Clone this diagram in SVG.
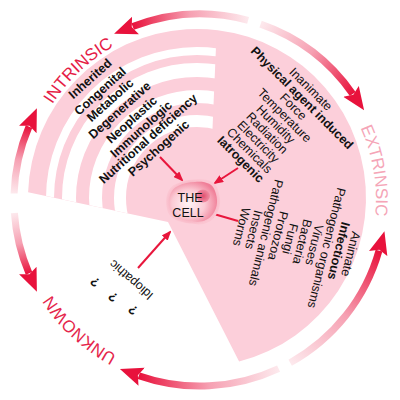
<svg xmlns="http://www.w3.org/2000/svg" width="400" height="400" viewBox="0 0 400 400">
<defs>
<style>
.lbl{font-family:"Liberation Sans",Arial,sans-serif;font-size:12.5px;fill:#111;text-anchor:middle}
.b{font-weight:bold}
.ring{font-family:"Liberation Sans",Arial,sans-serif;font-size:17px;text-anchor:middle}
.ptr{stroke:#e8163c;stroke-width:2;fill:none;marker-end:url(#ah)}
.arc{fill:none;stroke-width:7;marker-end:url(#big)}
.gap{fill:none;stroke:#fff}
</style>
<marker id="ah" markerUnits="userSpaceOnUse" markerWidth="10" markerHeight="8" refX="8" refY="4" orient="auto" viewBox="0 0 10 8"><path d="M0,0 L10,4 L0,8 z" fill="#e8163c"/></marker>
<marker id="big" markerUnits="userSpaceOnUse" markerWidth="23" markerHeight="20" refX="3" refY="10" orient="auto" viewBox="0 0 23 20"><path d="M0,0.5 L23,10 L0,19.5 L4,10 z" fill="#e8123c"/></marker>
<linearGradient id="gb"><stop offset="0" stop-color="#fde9ed"/><stop offset="0.5" stop-color="#f6a0b2"/><stop offset="1" stop-color="#e8123c"/></linearGradient>
<linearGradient id="g1" href="#gb" gradientUnits="userSpaceOnUse" x1="14.1" y1="193.5" x2="29" y2="126.7"/>
<linearGradient id="g2" href="#gb" gradientUnits="userSpaceOnUse" x1="248.1" y1="20.3" x2="132.7" y2="26.6"/>
<linearGradient id="g3" href="#gb" gradientUnits="userSpaceOnUse" x1="260.6" y1="24.1" x2="352.7" y2="93.9"/>
<linearGradient id="g4" href="#gb" gradientUnits="userSpaceOnUse" x1="290.2" y1="362.7" x2="379" y2="250.6"/>
<linearGradient id="g5" href="#gb" gradientUnits="userSpaceOnUse" x1="278.6" y1="368.6" x2="138.8" y2="375.7"/>
<linearGradient id="g6" href="#gb" gradientUnits="userSpaceOnUse" x1="14.4" y1="213" x2="29" y2="273.3"/>
<radialGradient id="cellg" cx="0.4" cy="0.55" r="0.62"><stop offset="0" stop-color="#fff4f6"/><stop offset="0.55" stop-color="#fbcbd5"/><stop offset="1" stop-color="#f07f98"/></radialGradient>
<radialGradient id="halo" cx="0.5" cy="0.5" r="0.5"><stop offset="0.7" stop-color="#f6a9ba"/><stop offset="1" stop-color="#fbc6d2"/></radialGradient>
<radialGradient id="nucg"><stop offset="0" stop-color="#df4f6e"/><stop offset="1" stop-color="#f08ca2"/></radialGradient>
<path id="circ" d="M200,376 A176,176 0 1 1 200,24 A176,176 0 1 1 200,376"/>
<path id="blob" d="M195,182 C204,181 213,183 215,191 C218,199 218,207 213,214 C208,221 200,223 192,221 C183,220 172,218 170,208 C168,199 170,189 178,186 C184,183 189,182 195,182 Z"/>
<clipPath id="intr"><polygon points="218,0 212,140 168,222 0,186 0,0"/></clipPath>
</defs>
<rect width="400" height="400" fill="#fff"/>
<g id="field">
<path d="M168,222 L239.1,361.6 A169,169 0 1 0 28.1,192.3 Z" fill="#fccfda"/>
<g clip-path="url(#intr)">
<circle class="gap" cx="197" cy="198" r="147" stroke-width="8"/>
<circle class="gap" cx="197" cy="198" r="128" stroke-width="14"/>
<circle class="gap" cx="197" cy="198" r="101.5" stroke-width="13"/>
<circle class="gap" cx="197" cy="198" r="77" stroke-width="12"/>
</g>
</g>
<g id="cycle">
<path class="arc" stroke="url(#g1)" d="M14.1,193.5 A186,186 0 0 1 29,126.7"/>
<path class="arc" stroke="url(#g2)" d="M248.1,20.3 A186,186 0 0 0 132.7,26.6"/>
<path class="arc" stroke="url(#g3)" d="M260.6,24.1 A186,186 0 0 1 352.7,93.9"/>
<path class="arc" stroke="url(#g4)" d="M290.2,362.7 A186,186 0 0 0 379,250.6"/>
<path class="arc" stroke="url(#g5)" d="M278.6,368.6 A186,186 0 0 1 138.8,375.7"/>
<path class="arc" stroke="url(#g6)" d="M14.4,213 A186,186 0 0 0 29,273.3"/>
<text class="ring" fill="#e51d47"><textPath href="#circ" startOffset="420.2">INTRINSIC</textPath></text>
<text class="ring" fill="#f5a5b7"><textPath href="#circ" startOffset="799.9">EXTRINSIC</textPath></text>
<text class="ring" fill="#e5264c"><textPath href="#circ" startOffset="131.5">UNKNOWN</textPath></text>
</g>
<g id="intrinsic" class="lbl b">
<text transform="translate(90,78.5) rotate(-42)" y="4.4">Inherited</text>
<text transform="translate(100,91) rotate(-42)" y="4.4">Congenital</text>
<text transform="translate(110,100) rotate(-42)" y="4.4">Metabolic</text>
<text transform="translate(119.5,110) rotate(-42)" y="4.4">Degenerative</text>
<text transform="translate(131.5,119.5) rotate(-42)" y="4.4">Neoplastic</text>
<text transform="translate(141,129) rotate(-42)" y="4.4">Immunologic</text>
<text transform="translate(148,138.5) rotate(-42)" y="4.4">Nutritional deficiency</text>
<text transform="translate(158.5,148) rotate(-42)" y="4.4">Psychogenic</text>
</g>
<g id="inanimate" class="lbl" transform="translate(311,89) rotate(45)">
<text y="4.4">Inanimate</text>
<text y="16.8" class="b">Physical agent induced</text>
<text y="29.2">Force</text>
<text y="41.6">Temperature</text>
<text y="54">Humidity</text>
<text y="66.4">Radiation</text>
<text y="78.8">Electricity</text>
<text y="91.2">Chemicals</text>
<text y="103.6" class="b">Iatrogenic</text>
</g>
<g id="animate" class="lbl" transform="translate(351,254) rotate(104)">
<text y="4.4">Animate</text>
<text y="16.9" class="b">Infectious</text>
<text y="29.4">Pathogenic organisms</text>
<text y="41.9">Viruses</text>
<text y="54.4">Bacteria</text>
<text y="66.9">Fungi</text>
<text y="79.4">Protozoa</text>
<text y="91.9">Pathogenic animals</text>
<text y="104.4">Insects</text>
<text y="116.9">Worms</text>
</g>
<g id="unknown" class="lbl">
<text transform="translate(131,280) rotate(-139)" y="4.4">Idiopathic</text>
<text class="b" style="font-size:13px" transform="translate(95,282) rotate(-139)" y="4.6">?</text>
<text class="b" style="font-size:13px" transform="translate(113,297) rotate(-139)" y="4.6">?</text>
<text class="b" style="font-size:13px" transform="translate(133,310) rotate(-139)" y="4.6">?</text>
</g>
<g id="connectors">
<line class="ptr" x1="160" y1="157" x2="182" y2="180"/>
<line class="ptr" x1="238" y1="168" x2="215" y2="183"/>
<line class="ptr" x1="238" y1="221" x2="207" y2="212"/>
<line class="ptr" x1="138" y1="268" x2="170" y2="232"/>
</g>
<g id="cell">
<use href="#blob" fill="url(#halo)" transform="translate(193,201) scale(1.13) translate(-193,-201)"/>
<use href="#blob" fill="url(#cellg)"/>
<ellipse cx="203" cy="196" rx="7" ry="6.5" fill="url(#nucg)"/>
<text class="lbl" x="190" y="201.5">THE</text>
<text class="lbl" x="188" y="216.5">CELL</text>
</g>
</svg>
